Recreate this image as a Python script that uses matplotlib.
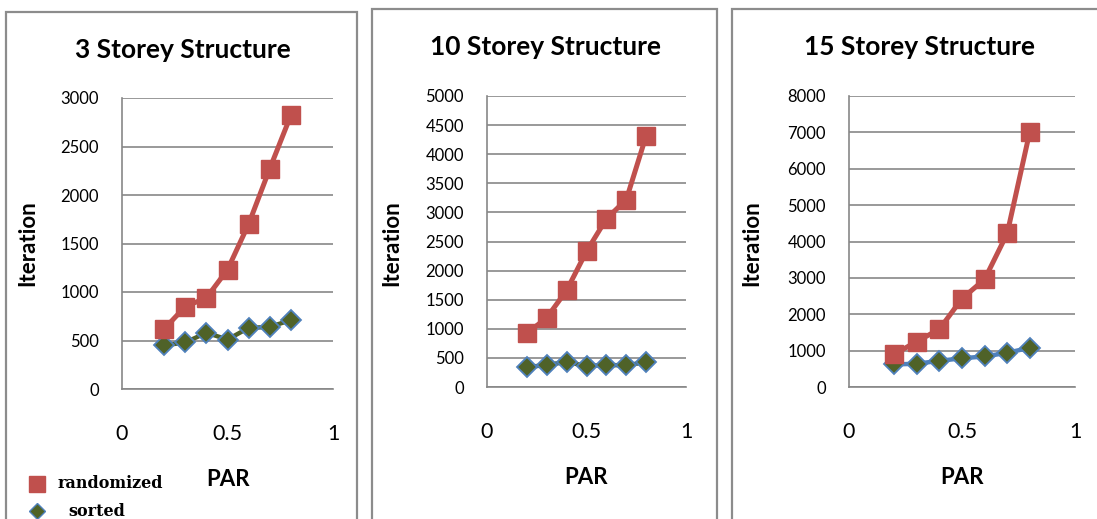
import matplotlib
matplotlib.use('Agg')
import matplotlib.pyplot as plt
from matplotlib.patches import Rectangle
from matplotlib.lines import Line2D

# PAR values and iteration counts for each structure
par = [0.2, 0.3, 0.4, 0.5, 0.6, 0.7, 0.8]
titles = ['3 Storey Structure', '10 Storey Structure', '15 Storey Structure']
randomized_3 = [620, 850, 940, 1230, 1700, 2270, 2820]
sorted_3 = [450, 480, 580, 510, 630, 640, 710]
randomized_10 = [920, 1190, 1660, 2330, 2890, 3220, 4320]
sorted_10 = [340, 380, 430, 360, 380, 370, 430]
randomized_15 = [900, 1250, 1590, 2430, 2960, 4220, 7020]
sorted_15 = [620, 640, 720, 790, 840, 940, 1080]
y_max = [3000, 5000, 8000]
y_step = [500, 500, 1000]
x_ticks = [0, 0.5, 1]

RED = '#C0504D'
OLIVE = '#4F6228'
BLUE = '#4F81BD'
GRID = '#878787'
FRAME = '#8C8C8C'
FONT = 'Lato'

W, H = 1097, 519
fig = plt.figure(figsize=(W / 100, H / 100), dpi=100)

def px_rect(x0, y0, x1, y1):
    # pixel box (top-left origin) -> figure fraction
    return [x0 / W, 1 - y1 / H, (x1 - x0) / W, (y1 - y0) / H]

# chart frames
frames = [(6, 12, 357), (372, 9, 717), (732, 9, 1100)]
for x0, y0, x1 in frames:
    r = Rectangle((x0 / W, -0.05), (x1 - x0) / W, 1 - y0 / H + 0.05,
                  transform=fig.transFigure, fill=False, edgecolor=FRAME,
                  linewidth=1.6, clip_on=False)
    fig.add_artist(r)

axes_px = [(122, 98, 333, 389), (487, 96, 686, 387), (849, 96, 1075, 387)]
title_pos = [(183, 50), (545, 47), (920, 47)]
ylab_x = [28, 392, 752]
par_pos = [(228, 479), (586, 478), (962, 478)]
series = [(randomized_3, sorted_3, OLIVE),
          (randomized_10, sorted_10, OLIVE),
          (randomized_15, sorted_15, BLUE)]

for i in range(3):
    ax = fig.add_axes(px_rect(*axes_px[i]))
    rnd, srt, sline = series[i]
    ax.plot(par, srt, color=sline, lw=3.2, marker='D', ms=10,
            mfc=OLIVE, mec=BLUE, mew=1.3, zorder=3)
    ax.plot(par, rnd, color=RED, lw=3.6, marker='s', ms=13.5,
            mfc=RED, mec=RED, zorder=4)
    ax.set_xlim(0, 1)
    ax.set_ylim(0, y_max[i])
    ax.set_xticks(x_ticks)
    ax.set_xticklabels(['0', '0.5', '1'])
    ax.set_yticks(range(0, y_max[i] + 1, y_step[i]))
    ax.yaxis.grid(True, color=GRID, lw=1.2)
    ax.set_axisbelow(True)
    for s in ['top', 'right']:
        ax.spines[s].set_visible(False)
    for s in ['left', 'bottom']:
        ax.spines[s].set_color(GRID)
        ax.spines[s].set_linewidth(1.2)
    ax.tick_params(axis='y', length=0, pad=16.5, labelsize=12)
    ax.tick_params(axis='x', length=0, pad=25, labelsize=15.5)
    for lab in ax.get_xticklabels() + ax.get_yticklabels():
        lab.set_fontfamily(FONT)

    tx, ty = title_pos[i]
    fig.text(tx / W, 1 - ty / H, titles[i], ha='center', va='center',
             fontsize=19, fontweight='bold', family=FONT)
    fig.text(ylab_x[i] / W, 1 - 243 / H, 'Iteration', rotation=90,
             ha='center', va='center', fontsize=16, fontweight='bold', family=FONT)
    px, py = par_pos[i]
    fig.text(px / W, 1 - py / H, 'PAR', ha='center', va='center',
             fontsize=16, fontweight='bold', family=FONT)

# legend below the first chart
fig.add_artist(Line2D([37 / W], [1 - 484 / H], marker='s', ms=11,
                      color=RED, transform=fig.transFigure))
fig.add_artist(Line2D([37 / W], [1 - 511 / H], marker='D', ms=8,
                      mfc=OLIVE, mec=BLUE, mew=1.0, transform=fig.transFigure))
fig.text(57 / W, 1 - 484 / H, 'randomized', ha='left', va='center',
         fontsize=11.5, fontweight='bold', family='DejaVu Serif')
fig.text(68 / W, 1 - 512 / H, 'sorted', ha='left', va='center',
         fontsize=11.5, fontweight='bold', family='DejaVu Serif')

fig.savefig('out.png', dpi=100)
